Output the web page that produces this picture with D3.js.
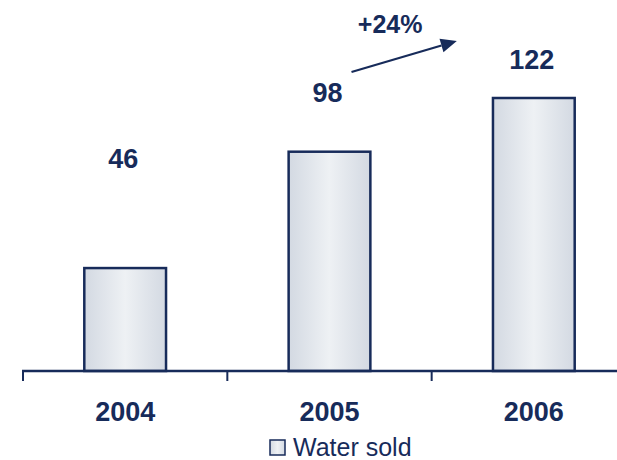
<!DOCTYPE html>
<html>
<head>
<meta charset="utf-8">
<script src="https://cdn.jsdelivr.net/npm/d3@7/dist/d3.min.js"></script>
<style>
  html, body { margin: 0; padding: 0; background: #fff; }
  svg { display: block; }
</style>
</head>
<body>
<script>
const categories = ["2004", "2005", "2006"];
const waterSold = [46, 98, 122];
const seriesName = "Water sold";
const growthLabel = "+24%";

const W = 617, H = 460;
const navy = "#172b5a";
const font = "'Liberation Sans', Arial, sans-serif";

const svg = d3.select("body").append("svg").attr("width", W).attr("height", H);

const defs = svg.append("defs");
const grad = defs.append("linearGradient").attr("id", "barGrad")
  .attr("x1", "0%").attr("x2", "100%").attr("y1", "0%").attr("y2", "0%");
grad.append("stop").attr("offset", "0%").attr("stop-color", "#d3d9e2");
grad.append("stop").attr("offset", "50%").attr("stop-color", "#eef1f4");
grad.append("stop").attr("offset", "100%").attr("stop-color", "#d3d9e2");

const x = d3.scaleBand().domain(categories).range([23, 636]).paddingInner(0.6).paddingOuter(0.3);
const y = d3.scaleLinear().domain([0, 122]).range([371, 98]);

// bars
svg.selectAll("rect.bar").data(categories).enter().append("rect")
  .attr("class", "bar")
  .attr("x", d => x(d))
  .attr("y", (d, i) => y(waterSold[i]))
  .attr("width", x.bandwidth())
  .attr("height", (d, i) => y(0) - y(waterSold[i]))
  .attr("fill", "url(#barGrad)")
  .attr("stroke", navy)
  .attr("stroke-width", 2.5);

// axis line + ticks
const axisG = svg.append("g");
axisG.append("line").attr("x1", 22).attr("x2", W).attr("y1", y(0)).attr("y2", y(0))
  .attr("stroke", navy).attr("stroke-width", 2.5);
const tickPos = categories.map(c => x(c) - x.bandwidth() * 0.75);
axisG.selectAll("line.tick").data(tickPos).enter().append("line")
  .attr("x1", d => d).attr("x2", d => d)
  .attr("y1", y(0)).attr("y2", y(0) + 10)
  .attr("stroke", navy).attr("stroke-width", 2);

// category labels
svg.selectAll("text.cat").data(categories).enter().append("text")
  .attr("x", d => x(d) + x.bandwidth() / 2)
  .attr("y", 420.5)
  .attr("text-anchor", "middle")
  .attr("font-family", font).attr("font-weight", "bold").attr("font-size", 27)
  .attr("fill", navy)
  .text(d => d);

// value labels
const labelGap = [100, 50, 29];
svg.selectAll("text.val").data(categories).enter().append("text")
  .attr("x", d => x(d) + x.bandwidth() / 2 - 2)
  .attr("y", (d, i) => y(waterSold[i]) - labelGap[i])
  .attr("text-anchor", "middle")
  .attr("font-family", font).attr("font-weight", "bold").attr("font-size", 27)
  .attr("fill", navy)
  .text((d, i) => waterSold[i]);

// growth arrow
const c05 = x("2005") + x.bandwidth() / 2;
const c06 = x("2006") + x.bandwidth() / 2;
const topY = y(122);
const x1 = c05 + 22, y1 = topY - 26, x2 = c06 - 77, y2 = topY - 57;
const ang = Math.atan2(y2 - y1, x2 - x1);
const hl = 16, hw = 7;
const bx = x2 - hl * Math.cos(ang), by = y2 - hl * Math.sin(ang);
svg.append("line").attr("x1", x1).attr("y1", y1).attr("x2", bx).attr("y2", by)
  .attr("stroke", navy).attr("stroke-width", 2.2);
svg.append("path")
  .attr("d", `M${x2},${y2} L${bx + hw * Math.sin(ang)},${by - hw * Math.cos(ang)} L${bx - hw * Math.sin(ang)},${by + hw * Math.cos(ang)} Z`)
  .attr("fill", navy);
svg.append("text")
  .attr("x", (x1 + x2) / 2 - 14).attr("y", topY - 65.5)
  .attr("text-anchor", "middle")
  .attr("font-family", font).attr("font-weight", "bold").attr("font-size", 25)
  .attr("fill", navy)
  .text(growthLabel);

// legend
const lg = svg.append("g").attr("transform", "translate(270,440)");
lg.append("rect").attr("x", 0).attr("y", 0).attr("width", 15).attr("height", 15)
  .attr("fill", "url(#barGrad)").attr("stroke", navy).attr("stroke-width", 1.5);
lg.append("text").attr("x", 23).attr("y", 15.5)
  .attr("font-family", font).attr("font-size", 25)
  .attr("fill", navy)
  .text(seriesName);
</script>
</body>
</html>
